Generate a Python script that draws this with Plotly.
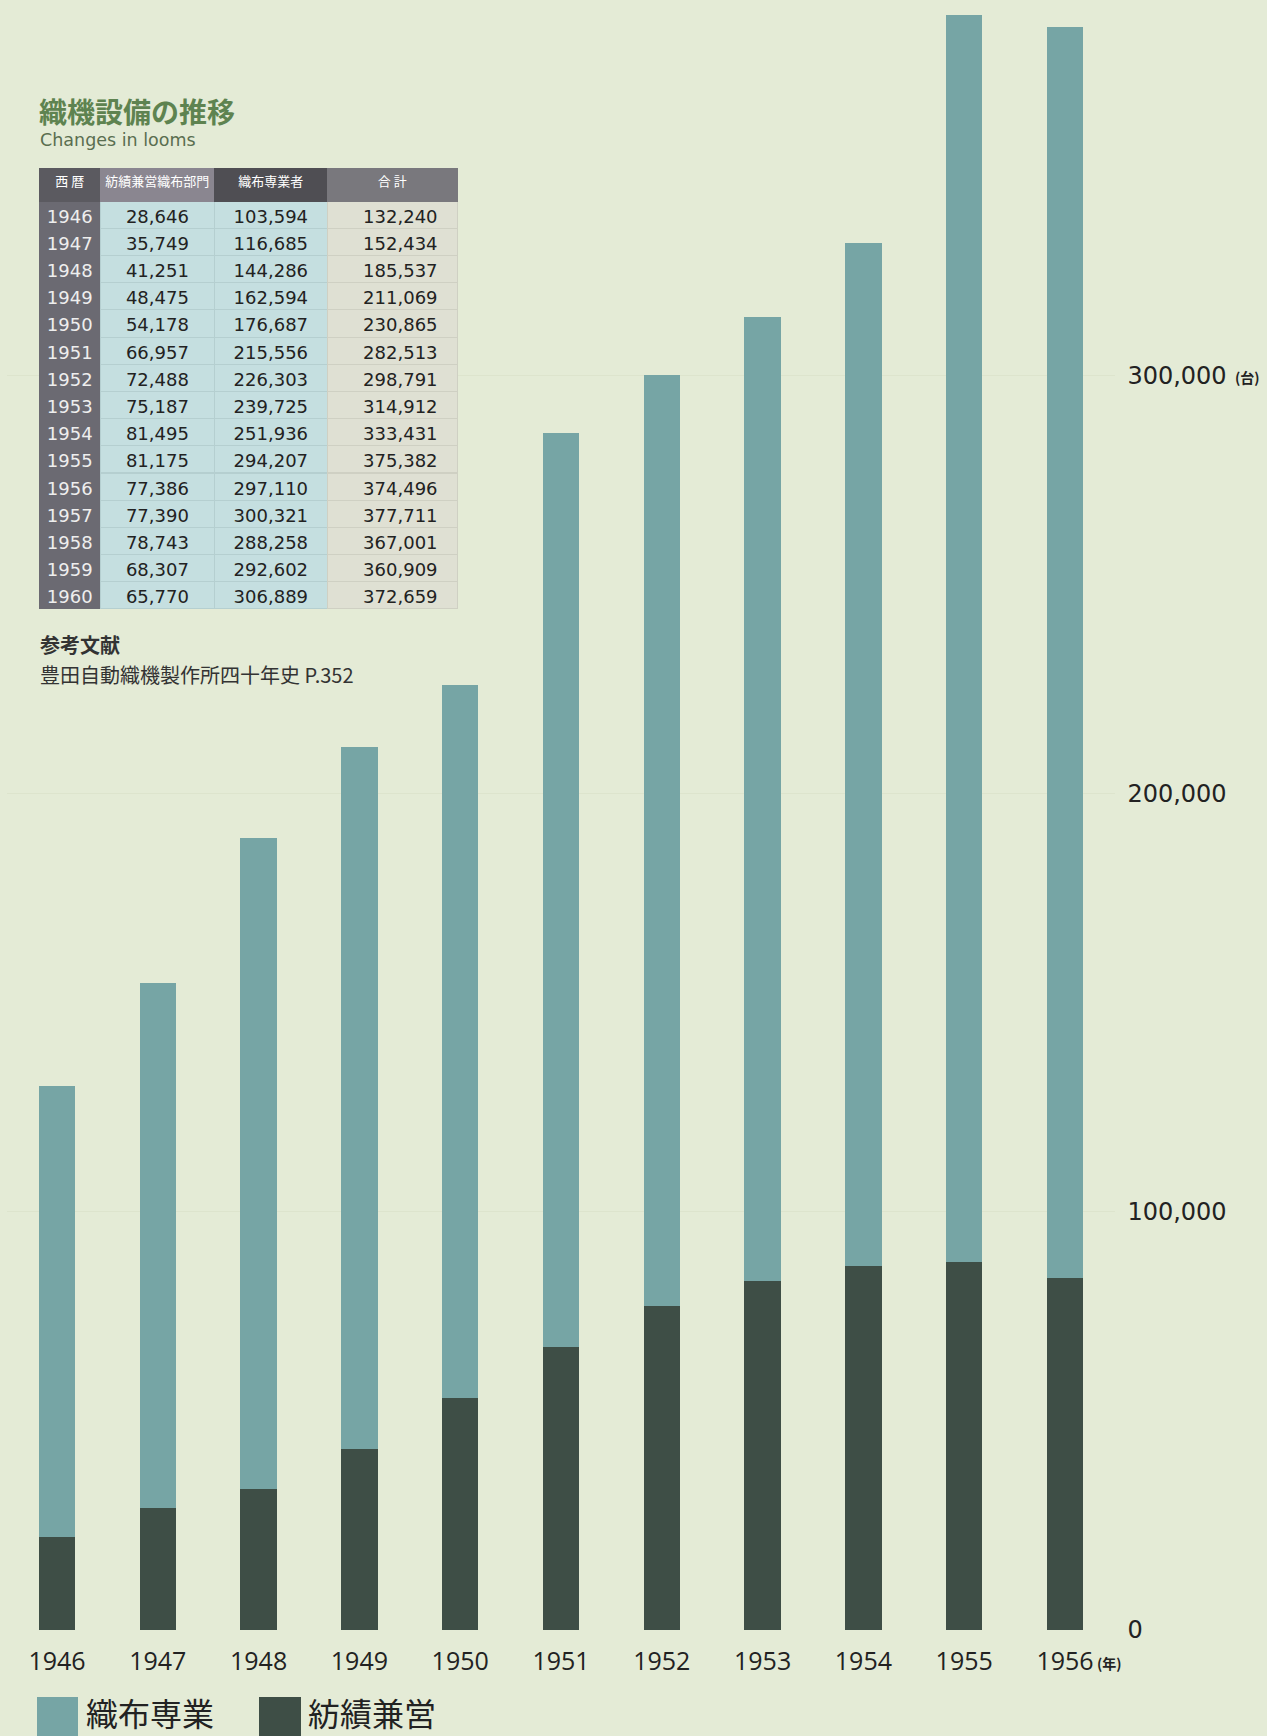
import plotly.graph_objects as go

# ---- data (bars) ----
years = ["1946", "1947", "1948", "1949", "1950", "1951", "1952", "1953", "1954", "1955", "1956"]
spinning = [22300, 29200, 33700, 43300, 55500, 67600, 77400, 83400, 87000, 88000, 84200]       # 紡績兼営
weaving = [107800, 125500, 155700, 167700, 170500, 218500, 222600, 230600, 244500, 298100, 299100]  # 織布専業

# ---- table printed on the chart ----
tbl_years = ["1946", "1947", "1948", "1949", "1950", "1951", "1952", "1953", "1954", "1955",
             "1956", "1957", "1958", "1959", "1960"]
tbl_spin = ["28,646", "35,749", "41,251", "48,475", "54,178", "66,957", "72,488", "75,187",
            "81,495", "81,175", "77,386", "77,390", "78,743", "68,307", "65,770"]
tbl_weave = ["103,594", "116,685", "144,286", "162,594", "176,687", "215,556", "226,303", "239,725",
             "251,936", "294,207", "297,110", "300,321", "288,258", "292,602", "306,889"]
tbl_total = ["132,240", "152,434", "185,537", "211,069", "230,865", "282,513", "298,791", "314,912",
             "333,431", "375,382", "374,496", "377,711", "367,001", "360,909", "372,659"]
tbl_header = ["西 暦", "紡績兼営織布部門", "織布専業者", "合 計"]

y_tickvals = [0, 100000, 200000, 300000]
y_ticktext = ["0", "100,000", "200,000", "300,000"]

W, H = 1267, 1736
H_EFF = 1722  # effective rendered height observed in round 1
BG = "#e4ebd6"
LIGHT = "#76a5a5"
DARK = "#3e4e46"


def px(x):
    return x / W


def py(y):
    return 1 - y / H_EFF


NB = "\u00a0"
fig = go.Figure()
fig.add_trace(go.Bar(x=years, y=spinning, name="紡績兼営", marker=dict(color=DARK, line=dict(width=0))))
fig.add_trace(go.Bar(x=years, y=weaving, name="織布専業", marker=dict(color=LIGHT, line=dict(width=0))))

fig.add_trace(go.Table(
    domain=dict(x=[px(39), px(457)], y=[py(630), py(168)]),
    columnwidth=[61.4, 113.6, 113, 129.4],
    header=dict(
        values=tbl_header,
        fill_color=[["#5b5a60"], ["#8a8690"], ["#4f4e53"], ["#79787d"]],
        line=dict(color=[["#5b5a60"], ["#8a8690"], ["#4f4e53"], ["#79787d"]], width=1),
        font=dict(family="Noto Sans CJK JP", size=13, color="#ffffff"),
        align="center", height=33,
    ),
    cells=dict(
        values=[tbl_years, tbl_spin, tbl_weave, [t + NB * 2 for t in tbl_total]],
        fill_color=["#6b6a72", "#c5dfe0", "#c5dfe0", "#dfe0d3"],
        line=dict(color=["#6b6a72", "#b5cfd0", "#b5cfd0", "#cfd0c3"], width=1),
        font=dict(family="DejaVu Sans", size=18, color=["#eeeeee", "#222222", "#222222", "#222222"]),
        align=["center", "center", "center", "right"], height=27.2,
    ),
))

y0 = py(1630)
ymax = 1630 / 418.3 * 100000

fig.update_layout(
    width=W, height=H,
    margin=dict(l=0, r=0, t=0, b=0),
    paper_bgcolor=BG, plot_bgcolor=BG,
    barmode="stack", bargap=0.638,
    showlegend=False,
    xaxis=dict(
        domain=[px(6.6), px(1115.4)], range=[-0.5, 10.5], type="category",
        showgrid=False, zeroline=False, showline=False, ticks="",
        tickfont=dict(family="Open Sans", size=25, color="#222222"),
        ticklabelstandoff=14,
    ),
    yaxis=dict(
        domain=[y0, 1], range=[0, ymax], side="right",
        tickvals=y_tickvals, ticktext=y_ticktext,
        showgrid=True, gridcolor="#dde4cd", gridwidth=1,
        zeroline=False, showline=False, ticks="",
        tickfont=dict(family="DejaVu Sans", size=24, color="#222222"),
        ticklabelstandoff=11,
    ),
)

annos = [
    dict(text="<b>織機設備の推移</b>", x=px(37), y=py(111), xanchor="left", yanchor="middle",
         font=dict(family="Noto Sans CJK JP", size=28, color="#5e8350")),
    dict(text="Changes in looms", x=px(38), y=py(140), xanchor="left", yanchor="middle",
         font=dict(family="DejaVu Sans", size=17.5, color="#5a6e50")),
    dict(text="<b>参考文献</b>", x=px(38), y=py(644), xanchor="left", yanchor="middle",
         font=dict(family="Noto Sans CJK JP", size=20, color="#333333")),
    dict(text="豊田自動織機製作所四十年史 P.352", x=px(38), y=py(674), xanchor="left", yanchor="middle",
         font=dict(family="Noto Sans CJK JP", size=20, color="#333333")),
    dict(text="<b>(台)</b>", x=px(1233), y=py(377), xanchor="left", yanchor="middle",
         font=dict(family="Noto Sans CJK JP", size=14, color="#222222")),
    dict(text="<b>(年)</b>", x=px(1095), y=py(1663), xanchor="left", yanchor="middle",
         font=dict(family="Noto Sans CJK JP", size=14, color="#222222")),
    dict(text="織布専業", x=px(84), y=py(1712), xanchor="left", yanchor="middle",
         font=dict(family="Noto Sans CJK JP", size=32, color="#222222")),
    dict(text="紡績兼営", x=px(306), y=py(1712), xanchor="left", yanchor="middle",
         font=dict(family="Noto Sans CJK JP", size=32, color="#222222")),
]
for a in annos:
    a.update(xref="paper", yref="paper", showarrow=False)
fig.update_layout(annotations=annos)

fig.update_layout(shapes=[
    dict(type="rect", xref="paper", yref="paper", x0=px(37), x1=px(78), y0=py(1745), y1=py(1697),
         fillcolor=LIGHT, line=dict(width=0)),
    dict(type="rect", xref="paper", yref="paper", x0=px(259), x1=px(301), y0=py(1745), y1=py(1697),
         fillcolor=DARK, line=dict(width=0)),
])

fig.write_html("out.html")
